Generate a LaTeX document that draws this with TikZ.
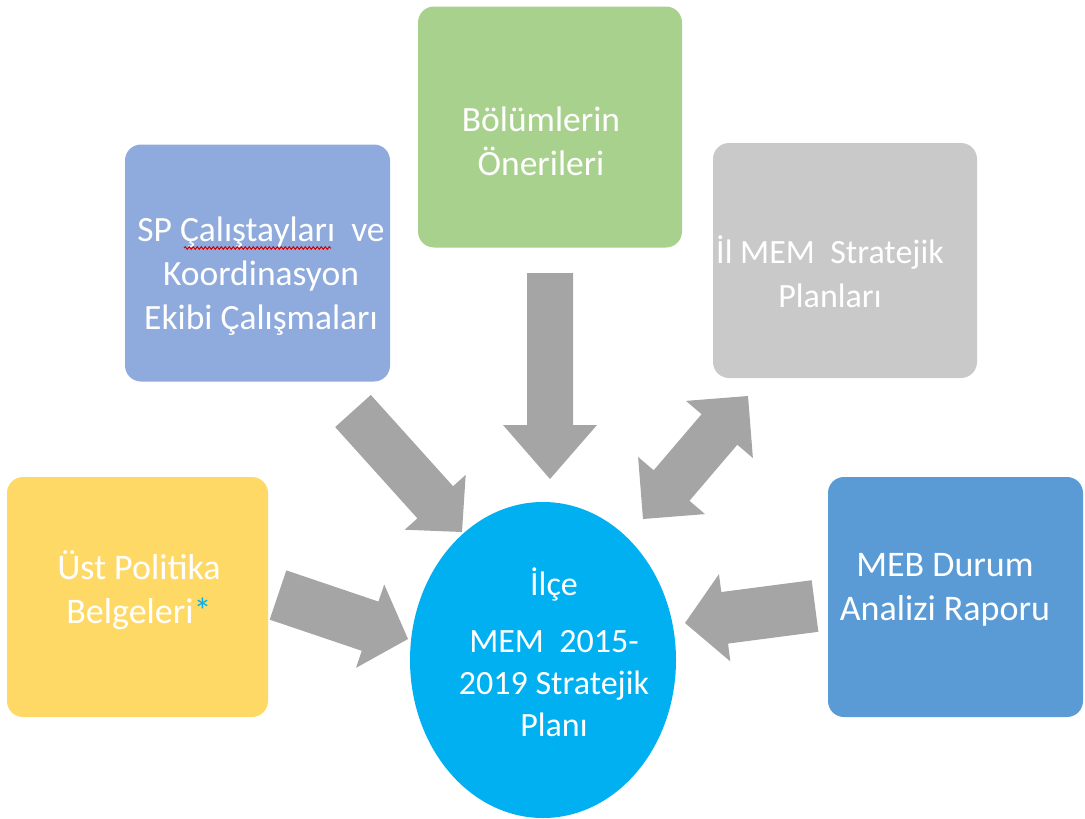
\documentclass[tikz,border=0pt]{standalone}
\usepackage{fontspec}
\setmainfont{Carlito}
\usetikzlibrary{calc,shapes.geometric,decorations.pathmorphing}
\definecolor{cGreen}{HTML}{A9D18E}
\definecolor{cSP}{HTML}{8FAADC}
\definecolor{cGrey}{HTML}{C9C9C9}
\definecolor{cYellow}{HTML}{FFD966}
\definecolor{cMEB}{HTML}{5B9BD5}
\definecolor{cCircle}{HTML}{00B0F0}
\definecolor{cArrow}{HTML}{A5A5A5}
\newcommand\blockarr[5]{%
  \path ($(#2)!#5!(#1)$) coordinate (bN);
  \fill[arrowfill] ($(#1)!#3!90:(#2)$) -- ($(bN)!#3!-90:(#1)$) -- ($(bN)!#4!-90:(#1)$) -- (#2)
    -- ($(bN)!#4!90:(#1)$) -- ($(bN)!#3!90:(#1)$) -- ($(#1)!#3!-90:(#2)$) -- cycle;}
\newcommand\dblarr[5]{%
  \path ($(#2)!#5!(#1)$) coordinate (bN) ($(#1)!#5!(#2)$) coordinate (bM);
  \fill[arrowfill] (#1) -- ($(bM)!#4!90:(#2)$) -- ($(bM)!#3!90:(#2)$) -- ($(bN)!#3!-90:(#1)$)
    -- ($(bN)!#4!-90:(#1)$) -- (#2) -- ($(bN)!#4!90:(#1)$) -- ($(bN)!#3!90:(#1)$)
    -- ($(bM)!#3!-90:(#2)$) -- ($(bM)!#4!-90:(#2)$) -- cycle;}
\tikzset{
  box/.style={rectangle, rounded corners=16pt, draw=none, inner sep=0pt},
  label/.style={text=white, align=center, inner sep=0pt, font=\fontsize{35.5}{44}\selectfont},
  arrowfill/.style={fill=cArrow},
}
\begin{document}
\begin{tikzpicture}[x=1pt,y=-1pt]
\useasboundingbox (0,0) rectangle (1085,819);
% boxes
\node[box, fill=cGreen, minimum width=264pt, minimum height=241pt] (green) at (550,127) {};
\node[box, fill=cSP, minimum width=265pt, minimum height=237pt] (sp) at (257.5,263) {};
\node[box, fill=cGrey, minimum width=264pt, minimum height=235pt] (grey) at (845,260.5) {};
\node[box, fill=cYellow, minimum width=261pt, minimum height=240pt] (yellow) at (137.5,597) {};
\node[box, fill=cMEB, minimum width=255pt, minimum height=240pt] (meb) at (955.5,597) {};
\node[ellipse, fill=cCircle, minimum width=266pt, minimum height=316pt, inner sep=0pt] (plan) at (543,660) {};
% labels
\node[label] (tgreen) at (541,141) {Bölümlerin\\Önerileri};
\node[label] (tsp) at (261,276) {SP Çalıştayları\ \ ve\\Koordinasyon\\Ekibi Çalışmaları};
\node[label, font=\fontsize{34}{44}\selectfont] (tgrey) at (830,272) {İl MEM\ \ Stratejik\\Planları};
\node[label, font=\fontsize{36}{44}\selectfont] (tyellow) at (139,590) {Üst Politika\\Belgeleri\textcolor{cCircle}{*}};
\node[label, font=\fontsize{36}{44}\selectfont] (tmeb) at (945,590) {MEB Durum\\Analizi Raporu};
\node[label, font=\fontsize{34}{42}\selectfont] (tplan) at (554,652) {İlçe\\[15pt]MEM\ \ 2015-\\2019 Stratejik\\Planı};
% spell-check underline
\draw[red!85!black, line width=1pt, decorate, decoration={snake, amplitude=1.3pt, segment length=4pt}] (184,248) -- (331,248);
% arrow end points
\coordinate (a1s) at (278,595); \coordinate (a1e) at (408,639);
\coordinate (a2s) at (353,411); \coordinate (a2e) at (462,532);
\coordinate (a3s) at (550,273); \coordinate (a3e) at (550,479);
\coordinate (a4s) at (643,519); \coordinate (a4e) at (748,396);
\coordinate (a5s) at (815,606); \coordinate (a5e) at (685,623);
\blockarr{a1s}{a1e}{26pt}{44pt}{40pt}
\blockarr{a2s}{a2e}{24pt}{41pt}{40pt}
\blockarr{a3s}{a3e}{23pt}{47pt}{54pt}
\dblarr{a4s}{a4e}{23.5pt}{44pt}{44pt}
\blockarr{a5s}{a5e}{26pt}{44pt}{40pt}
\end{tikzpicture}
\end{document}
